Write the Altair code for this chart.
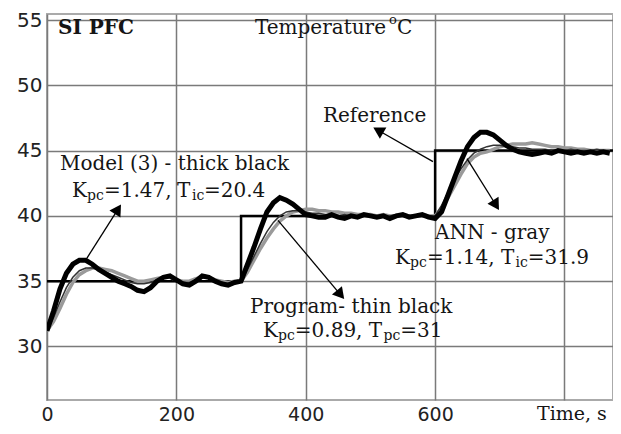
import math
import altair as alt
import pandas as pd

# ---------------- data ----------------
TIME = list(range(0, 880, 10))

MODEL = [31.2, 32.7, 34.4, 35.6, 36.3, 36.6, 36.6, 36.3, 35.9, 35.6,
         35.3, 35.0, 34.8, 34.6, 34.3, 34.2, 34.5, 35.0, 35.3, 35.4,
         35.1, 34.8, 34.7, 35.0, 35.4, 35.3, 35.0, 34.8, 34.7, 34.9,
         35.0, 36.3, 37.6, 39.0, 40.3, 41.0, 41.4, 41.2, 40.9, 40.5,
         40.1, 40.0, 39.9, 39.9, 40.1, 39.9, 39.8, 40.0, 39.9, 40.1,
         40.0, 39.9, 40.0, 39.8, 40.0, 40.1, 39.9, 40.0, 40.1, 39.9,
         39.8, 40.3, 41.6, 42.9, 44.2, 45.3, 46.0, 46.4, 46.4, 46.2,
         45.8, 45.4, 45.1, 44.9, 44.8, 44.7, 44.8, 44.9, 44.8, 45.0,
         44.9, 44.8, 44.9, 44.8, 44.9, 44.8, 44.9, 44.8]

PROGRAM = [31.2, 32.2, 33.4, 34.5, 35.3, 35.8, 36.0, 36.0, 35.9, 35.7,
           35.5, 35.3, 35.1, 34.9, 34.8, 34.8, 34.9, 35.1, 35.3, 35.3,
           35.1, 34.9, 34.9, 35.1, 35.3, 35.2, 35.0, 34.9, 34.8, 34.9,
           35.0, 35.9, 36.9, 37.9, 38.8, 39.5, 40.0, 40.3, 40.4, 40.4,
           40.3, 40.2, 40.2, 40.1, 40.1, 40.0, 40.1, 40.0, 40.0, 40.1,
           40.0, 40.0, 39.9, 40.0, 40.1, 40.0, 39.9, 40.0, 40.0, 40.0,
           40.0, 40.8, 41.8, 42.8, 43.6, 44.3, 44.8, 45.1, 45.3, 45.4,
           45.4, 45.3, 45.3, 45.2, 45.2, 45.1, 45.1, 45.1, 45.0, 45.0,
           45.0, 45.1, 45.0, 45.0, 45.0, 45.1, 45.0, 45.0]

ANN = [31.2, 31.9, 32.9, 34.0, 34.9, 35.5, 35.8, 36.0, 36.0, 35.9,
       35.8, 35.6, 35.4, 35.2, 35.0, 35.0, 35.1, 35.2, 35.3, 35.3,
       35.1, 35.0, 35.0, 35.2, 35.3, 35.3, 35.1, 35.0, 34.9, 35.0,
       35.0, 35.7, 36.6, 37.5, 38.3, 39.0, 39.6, 40.0, 40.3, 40.4,
       40.5, 40.5, 40.4, 40.4, 40.3, 40.3, 40.2, 40.2, 40.1, 40.1,
       40.1, 40.0, 40.1, 40.0, 40.0, 40.1, 40.0, 40.0, 40.1, 40.0,
       40.0, 40.6, 41.4, 42.3, 43.2, 44.0, 44.5, 44.8, 44.9, 45.1,
       45.3, 45.4, 45.5, 45.5, 45.5, 45.6, 45.5, 45.4, 45.3, 45.3,
       45.2, 45.2, 45.1, 45.1, 45.0, 45.0, 45.0, 45.0]

REF_T = [0, 300, 600, 875]
REF_V = [35, 40, 45, 45]

X_TICKS = [0, 200, 400, 600, 800]
Y_TICKS = [30, 35, 40, 45, 50, 55]

# annotation text segments: (time, temp, text, font size)
TEXTS = [
    (321.5, 54.39, "Temperature ", 20),
    (528.7, 55.00, "o", 13),
    (541.0, 54.39, "C", 20),
    (426.6, 47.65, "Reference", 20),
    (20.1, 43.95, "Model (3) - thick black", 20),
    (38.6, 41.88, "K", 20), (61.8, 41.50, "pc", 14), (88.1, 41.88, "=1.47,", 20),
    (201.0, 41.88, "T", 20), (224.1, 41.50, "ic", 14), (242.7, 41.88, "=20.4", 20),
    (599.8, 38.69, "ANN - gray", 20),
    (537.9, 36.78, "K", 20), (561.1, 36.40, "pc", 14), (587.4, 36.78, "=1.14,", 20),
    (701.8, 36.78, "T", 20), (724.2, 36.40, "ic", 14), (743.2, 36.78, "=31.9", 20),
    (313.8, 33.06, "Program- thin black", 20),
    (333.9, 31.17, "K", 20), (357.1, 30.79, "pc", 14), (383.1, 31.17, "=0.89,", 20),
    (497.4, 31.17, "T", 20), (520.2, 30.79, "pc", 14), (546.1, 31.17, "=31", 20),
    (757.5, 24.80, "Time, s", 19),
]
BOLD_TEXTS = [(17.0, 54.39, "SI PFC", 20)]

# arrows: tail (t, v) -> tip (t, v)
ARROWS = [
    (61.8, 36.77, 112.8, 40.75),
    (596.7, 44.15, 507.0, 46.70),
    (357.1, 39.66, 457.6, 33.74),
    (649.3, 44.38, 697.2, 40.58),
]

# ---------------- layout ----------------
X_MAX = 875
Y_MIN, Y_MAX = 25.90, 55.46
W, H = 566, 386
PXX = W / X_MAX
PXY = H / (Y_MAX - Y_MIN)
HEAD_SIZE = 170
HEAD_H = math.sqrt(3) / 2 * math.sqrt(HEAD_SIZE) / 2

xs = alt.Scale(domain=[0, X_MAX], nice=False, zero=False)
ys = alt.Scale(domain=[Y_MIN, Y_MAX], nice=False, zero=False)

x_axis = alt.Axis(values=X_TICKS, labelExpr="datum.value == 800 ? '' : datum.label",
                  grid=True, gridColor="#7a7a7a", gridWidth=1.5, ticks=False, tickSize=0,
                  domain=False, labelFont="DejaVu Sans", labelFontSize=19,
                  labelColor="#222222", labelPadding=5, labelFlush=False,
                  labelOverlap=False, title=None)
y_axis = alt.Axis(values=Y_TICKS, grid=True, gridColor="#7a7a7a", gridWidth=1.5,
                  ticks=False, tickSize=0, domain=False, labelFont="DejaVu Sans",
                  labelFontSize=20, labelColor="#222222", labelPadding=5,
                  labelOverlap=False, title=None)


def X(field):
    return alt.X(field, scale=xs, axis=x_axis)


def Y(field):
    return alt.Y(field, scale=ys, axis=y_axis)


curves = pd.DataFrame({
    "t": TIME * 3,
    "v": ANN + PROGRAM + MODEL,
    "s": ["ANN"] * len(TIME) + ["Program"] * len(TIME) + ["Model"] * len(TIME),
})
ref = pd.DataFrame({"t": REF_T, "v": REF_V})

ref_line = alt.Chart(ref).mark_line(interpolate="step-after", color="black",
                                   strokeWidth=2.5, clip=True).encode(
    x=X("t:Q"), y=Y("v:Q"),
)


def curve(name, color, width):
    return alt.Chart(curves).transform_filter(alt.datum.s == name).mark_line(
        color=color, strokeWidth=width, clip=True).encode(x=X("t:Q"), y=Y("v:Q"))


ann_line = curve("ANN", "#9a9a9a", 3.5)
prog_line = curve("Program", "#333333", 1.5)
model_line = curve("Model", "black", 5)

rows = []
for t0, v0, t1, v1 in ARROWS:
    dxp = (t1 - t0) * PXX
    dyp = -(v1 - v0) * PXY
    L = math.hypot(dxp, dyp)
    ux, uy = dxp / L, dyp / L
    ang = math.degrees(math.atan2(ux, -uy)) % 360
    hc_t = t1 - HEAD_H * ux / PXX
    hc_v = v1 + HEAD_H * uy / PXY
    rows.append({"t": t0, "v": v0, "t1": hc_t, "v1": hc_v, "ang": ang})
arr = pd.DataFrame(rows)

shafts = alt.Chart(arr).mark_rule(color="black", strokeWidth=1.3).encode(
    x=X("t:Q"), y=Y("v:Q"), x2="t1:Q", y2="v1:Q",
)
heads = alt.Chart(arr).mark_point(shape="triangle", filled=True, size=HEAD_SIZE,
                                  color="black", opacity=1).encode(
    x=X("t1:Q"), y=Y("v1:Q"), angle=alt.Angle("ang:Q", scale=None),
)

tx = pd.DataFrame(TEXTS, columns=["t", "v", "text", "size"])
btx = pd.DataFrame(BOLD_TEXTS, columns=["t", "v", "text", "size"])

labels = alt.Chart(tx).mark_text(align="left", baseline="middle", font="DejaVu Serif",
                                 color="#151515").encode(
    x=X("t:Q"), y=Y("v:Q"), text="text:N", size=alt.Size("size:Q", scale=None),
)
bold_labels = alt.Chart(btx).mark_text(align="left", baseline="middle",
                                       font="DejaVu Serif", fontWeight="bold",
                                       color="#151515").encode(
    x=X("t:Q"), y=Y("v:Q"), text="text:N", size=alt.Size("size:Q", scale=None),
)

chart = alt.layer(
    ref_line, ann_line, prog_line, model_line, shafts, heads, labels, bold_labels
).properties(
    width=W, height=H,
    autosize=alt.AutoSizeParams(type="none"),
    padding={"left": 39, "top": 6, "right": 0, "bottom": 26},
    background="white",
).configure_view(stroke="#aaaaaa", strokeWidth=2)

chart.save("out.html", embed_options={"renderer": "svg", "actions": False})
